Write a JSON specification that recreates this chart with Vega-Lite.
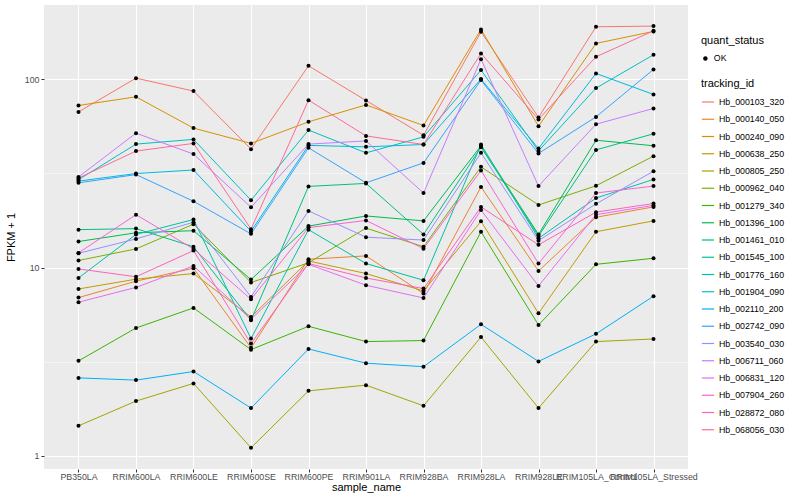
{
"$schema": "https://vega.github.io/schema/vega-lite/v6.json",
"width": 644, "height": 464,
"padding": {"left": 5, "top": 5, "right": 0, "bottom": 0},
"background": "white",
"config": {
 "font": "Liberation Sans",
 "view": {"fill": "#EBEBEB", "stroke": null},
 "axis": {"domain": false, "gridColor": "white", "tickColor": "#333333", "tickSize": 3, "labelColor": "#4D4D4D", "labelFontSize": 8.8, "titleFontSize": 11, "titleFontWeight": "normal", "titleColor": "black", "labelPadding": 2},
 "legend": {"titleFontSize": 11, "titleFontWeight": "normal", "labelFontSize": 8.8, "labelColor": "black", "titleColor": "black"}
},
"data": {"values": [
{"tracking_id":"Hb_000103_320","sample_name":"PB350LA","FPKM":67.2,"quant_status":"OK"},
{"tracking_id":"Hb_000103_320","sample_name":"RRIM600LA","FPKM":101.6,"quant_status":"OK"},
{"tracking_id":"Hb_000103_320","sample_name":"RRIM600LE","FPKM":86.7,"quant_status":"OK"},
{"tracking_id":"Hb_000103_320","sample_name":"RRIM600SE","FPKM":42.6,"quant_status":"OK"},
{"tracking_id":"Hb_000103_320","sample_name":"RRIM600PE","FPKM":118.1,"quant_status":"OK"},
{"tracking_id":"Hb_000103_320","sample_name":"RRIM901LA","FPKM":77.3,"quant_status":"OK"},
{"tracking_id":"Hb_000103_320","sample_name":"RRIM928BA","FPKM":50.5,"quant_status":"OK"},
{"tracking_id":"Hb_000103_320","sample_name":"RRIM928LA","FPKM":179.1,"quant_status":"OK"},
{"tracking_id":"Hb_000103_320","sample_name":"RRIM928LE","FPKM":62.8,"quant_status":"OK"},
{"tracking_id":"Hb_000103_320","sample_name":"RRIM105LA_Control","FPKM":190.5,"quant_status":"OK"},
{"tracking_id":"Hb_000103_320","sample_name":"RRIM105LA_Stressed","FPKM":192.1,"quant_status":"OK"},
{"tracking_id":"Hb_000140_050","sample_name":"PB350LA","FPKM":6.92,"quant_status":"OK"},
{"tracking_id":"Hb_000140_050","sample_name":"RRIM600LA","FPKM":8.46,"quant_status":"OK"},
{"tracking_id":"Hb_000140_050","sample_name":"RRIM600LE","FPKM":9.92,"quant_status":"OK"},
{"tracking_id":"Hb_000140_050","sample_name":"RRIM600SE","FPKM":3.74,"quant_status":"OK"},
{"tracking_id":"Hb_000140_050","sample_name":"RRIM600PE","FPKM":11.07,"quant_status":"OK"},
{"tracking_id":"Hb_000140_050","sample_name":"RRIM901LA","FPKM":11.53,"quant_status":"OK"},
{"tracking_id":"Hb_000140_050","sample_name":"RRIM928BA","FPKM":7.27,"quant_status":"OK"},
{"tracking_id":"Hb_000140_050","sample_name":"RRIM928LA","FPKM":26.8,"quant_status":"OK"},
{"tracking_id":"Hb_000140_050","sample_name":"RRIM928LE","FPKM":9.59,"quant_status":"OK"},
{"tracking_id":"Hb_000140_050","sample_name":"RRIM105LA_Control","FPKM":18.5,"quant_status":"OK"},
{"tracking_id":"Hb_000140_050","sample_name":"RRIM105LA_Stressed","FPKM":21.0,"quant_status":"OK"},
{"tracking_id":"Hb_000240_090","sample_name":"PB350LA","FPKM":72.7,"quant_status":"OK"},
{"tracking_id":"Hb_000240_090","sample_name":"RRIM600LA","FPKM":80.8,"quant_status":"OK"},
{"tracking_id":"Hb_000240_090","sample_name":"RRIM600LE","FPKM":55.1,"quant_status":"OK"},
{"tracking_id":"Hb_000240_090","sample_name":"RRIM600SE","FPKM":45.7,"quant_status":"OK"},
{"tracking_id":"Hb_000240_090","sample_name":"RRIM600PE","FPKM":59.5,"quant_status":"OK"},
{"tracking_id":"Hb_000240_090","sample_name":"RRIM901LA","FPKM":73.2,"quant_status":"OK"},
{"tracking_id":"Hb_000240_090","sample_name":"RRIM928BA","FPKM":56.9,"quant_status":"OK"},
{"tracking_id":"Hb_000240_090","sample_name":"RRIM928LA","FPKM":184.5,"quant_status":"OK"},
{"tracking_id":"Hb_000240_090","sample_name":"RRIM928LE","FPKM":56.4,"quant_status":"OK"},
{"tracking_id":"Hb_000240_090","sample_name":"RRIM105LA_Control","FPKM":155.4,"quant_status":"OK"},
{"tracking_id":"Hb_000240_090","sample_name":"RRIM105LA_Stressed","FPKM":180.0,"quant_status":"OK"},
{"tracking_id":"Hb_000638_250","sample_name":"PB350LA","FPKM":7.69,"quant_status":"OK"},
{"tracking_id":"Hb_000638_250","sample_name":"RRIM600LA","FPKM":8.67,"quant_status":"OK"},
{"tracking_id":"Hb_000638_250","sample_name":"RRIM600LE","FPKM":9.29,"quant_status":"OK"},
{"tracking_id":"Hb_000638_250","sample_name":"RRIM600SE","FPKM":5.46,"quant_status":"OK"},
{"tracking_id":"Hb_000638_250","sample_name":"RRIM600PE","FPKM":10.84,"quant_status":"OK"},
{"tracking_id":"Hb_000638_250","sample_name":"RRIM901LA","FPKM":9.29,"quant_status":"OK"},
{"tracking_id":"Hb_000638_250","sample_name":"RRIM928BA","FPKM":7.51,"quant_status":"OK"},
{"tracking_id":"Hb_000638_250","sample_name":"RRIM928LA","FPKM":17.6,"quant_status":"OK"},
{"tracking_id":"Hb_000638_250","sample_name":"RRIM928LE","FPKM":5.71,"quant_status":"OK"},
{"tracking_id":"Hb_000638_250","sample_name":"RRIM105LA_Control","FPKM":15.5,"quant_status":"OK"},
{"tracking_id":"Hb_000638_250","sample_name":"RRIM105LA_Stressed","FPKM":17.7,"quant_status":"OK"},
{"tracking_id":"Hb_000805_250","sample_name":"PB350LA","FPKM":1.44,"quant_status":"OK"},
{"tracking_id":"Hb_000805_250","sample_name":"RRIM600LA","FPKM":1.95,"quant_status":"OK"},
{"tracking_id":"Hb_000805_250","sample_name":"RRIM600LE","FPKM":2.42,"quant_status":"OK"},
{"tracking_id":"Hb_000805_250","sample_name":"RRIM600SE","FPKM":1.10,"quant_status":"OK"},
{"tracking_id":"Hb_000805_250","sample_name":"RRIM600PE","FPKM":2.21,"quant_status":"OK"},
{"tracking_id":"Hb_000805_250","sample_name":"RRIM901LA","FPKM":2.37,"quant_status":"OK"},
{"tracking_id":"Hb_000805_250","sample_name":"RRIM928BA","FPKM":1.84,"quant_status":"OK"},
{"tracking_id":"Hb_000805_250","sample_name":"RRIM928LA","FPKM":4.27,"quant_status":"OK"},
{"tracking_id":"Hb_000805_250","sample_name":"RRIM928LE","FPKM":1.79,"quant_status":"OK"},
{"tracking_id":"Hb_000805_250","sample_name":"RRIM105LA_Control","FPKM":4.04,"quant_status":"OK"},
{"tracking_id":"Hb_000805_250","sample_name":"RRIM105LA_Stressed","FPKM":4.17,"quant_status":"OK"},
{"tracking_id":"Hb_000962_040","sample_name":"PB350LA","FPKM":10.9,"quant_status":"OK"},
{"tracking_id":"Hb_000962_040","sample_name":"RRIM600LA","FPKM":12.56,"quant_status":"OK"},
{"tracking_id":"Hb_000962_040","sample_name":"RRIM600LE","FPKM":17.0,"quant_status":"OK"},
{"tracking_id":"Hb_000962_040","sample_name":"RRIM600SE","FPKM":8.32,"quant_status":"OK"},
{"tracking_id":"Hb_000962_040","sample_name":"RRIM600PE","FPKM":10.6,"quant_status":"OK"},
{"tracking_id":"Hb_000962_040","sample_name":"RRIM901LA","FPKM":16.2,"quant_status":"OK"},
{"tracking_id":"Hb_000962_040","sample_name":"RRIM928BA","FPKM":12.9,"quant_status":"OK"},
{"tracking_id":"Hb_000962_040","sample_name":"RRIM928LA","FPKM":34.3,"quant_status":"OK"},
{"tracking_id":"Hb_000962_040","sample_name":"RRIM928LE","FPKM":21.5,"quant_status":"OK"},
{"tracking_id":"Hb_000962_040","sample_name":"RRIM105LA_Control","FPKM":27.2,"quant_status":"OK"},
{"tracking_id":"Hb_000962_040","sample_name":"RRIM105LA_Stressed","FPKM":39.1,"quant_status":"OK"},
{"tracking_id":"Hb_001279_340","sample_name":"PB350LA","FPKM":3.19,"quant_status":"OK"},
{"tracking_id":"Hb_001279_340","sample_name":"RRIM600LA","FPKM":4.77,"quant_status":"OK"},
{"tracking_id":"Hb_001279_340","sample_name":"RRIM600LE","FPKM":6.10,"quant_status":"OK"},
{"tracking_id":"Hb_001279_340","sample_name":"RRIM600SE","FPKM":3.66,"quant_status":"OK"},
{"tracking_id":"Hb_001279_340","sample_name":"RRIM600PE","FPKM":4.87,"quant_status":"OK"},
{"tracking_id":"Hb_001279_340","sample_name":"RRIM901LA","FPKM":4.04,"quant_status":"OK"},
{"tracking_id":"Hb_001279_340","sample_name":"RRIM928BA","FPKM":4.09,"quant_status":"OK"},
{"tracking_id":"Hb_001279_340","sample_name":"RRIM928LA","FPKM":15.5,"quant_status":"OK"},
{"tracking_id":"Hb_001279_340","sample_name":"RRIM928LE","FPKM":4.95,"quant_status":"OK"},
{"tracking_id":"Hb_001279_340","sample_name":"RRIM105LA_Control","FPKM":10.4,"quant_status":"OK"},
{"tracking_id":"Hb_001279_340","sample_name":"RRIM105LA_Stressed","FPKM":11.2,"quant_status":"OK"},
{"tracking_id":"Hb_001396_100","sample_name":"PB350LA","FPKM":13.75,"quant_status":"OK"},
{"tracking_id":"Hb_001396_100","sample_name":"RRIM600LA","FPKM":15.3,"quant_status":"OK"},
{"tracking_id":"Hb_001396_100","sample_name":"RRIM600LE","FPKM":15.7,"quant_status":"OK"},
{"tracking_id":"Hb_001396_100","sample_name":"RRIM600SE","FPKM":8.63,"quant_status":"OK"},
{"tracking_id":"Hb_001396_100","sample_name":"RRIM600PE","FPKM":16.6,"quant_status":"OK"},
{"tracking_id":"Hb_001396_100","sample_name":"RRIM901LA","FPKM":18.8,"quant_status":"OK"},
{"tracking_id":"Hb_001396_100","sample_name":"RRIM928BA","FPKM":17.7,"quant_status":"OK"},
{"tracking_id":"Hb_001396_100","sample_name":"RRIM928LA","FPKM":44.4,"quant_status":"OK"},
{"tracking_id":"Hb_001396_100","sample_name":"RRIM928LE","FPKM":15.0,"quant_status":"OK"},
{"tracking_id":"Hb_001396_100","sample_name":"RRIM105LA_Control","FPKM":47.5,"quant_status":"OK"},
{"tracking_id":"Hb_001396_100","sample_name":"RRIM105LA_Stressed","FPKM":44.4,"quant_status":"OK"},
{"tracking_id":"Hb_001461_010","sample_name":"PB350LA","FPKM":15.9,"quant_status":"OK"},
{"tracking_id":"Hb_001461_010","sample_name":"RRIM600LA","FPKM":16.1,"quant_status":"OK"},
{"tracking_id":"Hb_001461_010","sample_name":"RRIM600LE","FPKM":12.9,"quant_status":"OK"},
{"tracking_id":"Hb_001461_010","sample_name":"RRIM600SE","FPKM":5.24,"quant_status":"OK"},
{"tracking_id":"Hb_001461_010","sample_name":"RRIM600PE","FPKM":27.0,"quant_status":"OK"},
{"tracking_id":"Hb_001461_010","sample_name":"RRIM901LA","FPKM":28.0,"quant_status":"OK"},
{"tracking_id":"Hb_001461_010","sample_name":"RRIM928BA","FPKM":15.0,"quant_status":"OK"},
{"tracking_id":"Hb_001461_010","sample_name":"RRIM928LA","FPKM":43.6,"quant_status":"OK"},
{"tracking_id":"Hb_001461_010","sample_name":"RRIM928LE","FPKM":14.7,"quant_status":"OK"},
{"tracking_id":"Hb_001461_010","sample_name":"RRIM105LA_Control","FPKM":42.2,"quant_status":"OK"},
{"tracking_id":"Hb_001461_010","sample_name":"RRIM105LA_Stressed","FPKM":51.4,"quant_status":"OK"},
{"tracking_id":"Hb_001545_100","sample_name":"PB350LA","FPKM":8.80,"quant_status":"OK"},
{"tracking_id":"Hb_001545_100","sample_name":"RRIM600LA","FPKM":15.0,"quant_status":"OK"},
{"tracking_id":"Hb_001545_100","sample_name":"RRIM600LE","FPKM":18.0,"quant_status":"OK"},
{"tracking_id":"Hb_001545_100","sample_name":"RRIM600SE","FPKM":4.19,"quant_status":"OK"},
{"tracking_id":"Hb_001545_100","sample_name":"RRIM600PE","FPKM":15.9,"quant_status":"OK"},
{"tracking_id":"Hb_001545_100","sample_name":"RRIM901LA","FPKM":10.5,"quant_status":"OK"},
{"tracking_id":"Hb_001545_100","sample_name":"RRIM928BA","FPKM":8.56,"quant_status":"OK"},
{"tracking_id":"Hb_001545_100","sample_name":"RRIM928LA","FPKM":45.1,"quant_status":"OK"},
{"tracking_id":"Hb_001545_100","sample_name":"RRIM928LE","FPKM":14.3,"quant_status":"OK"},
{"tracking_id":"Hb_001545_100","sample_name":"RRIM105LA_Control","FPKM":23.4,"quant_status":"OK"},
{"tracking_id":"Hb_001545_100","sample_name":"RRIM105LA_Stressed","FPKM":29.4,"quant_status":"OK"},
{"tracking_id":"Hb_001776_160","sample_name":"PB350LA","FPKM":29.3,"quant_status":"OK"},
{"tracking_id":"Hb_001776_160","sample_name":"RRIM600LA","FPKM":45.3,"quant_status":"OK"},
{"tracking_id":"Hb_001776_160","sample_name":"RRIM600LE","FPKM":48.0,"quant_status":"OK"},
{"tracking_id":"Hb_001776_160","sample_name":"RRIM600SE","FPKM":22.8,"quant_status":"OK"},
{"tracking_id":"Hb_001776_160","sample_name":"RRIM600PE","FPKM":53.8,"quant_status":"OK"},
{"tracking_id":"Hb_001776_160","sample_name":"RRIM901LA","FPKM":40.7,"quant_status":"OK"},
{"tracking_id":"Hb_001776_160","sample_name":"RRIM928BA","FPKM":49.5,"quant_status":"OK"},
{"tracking_id":"Hb_001776_160","sample_name":"RRIM928LA","FPKM":112.1,"quant_status":"OK"},
{"tracking_id":"Hb_001776_160","sample_name":"RRIM928LE","FPKM":41.7,"quant_status":"OK"},
{"tracking_id":"Hb_001776_160","sample_name":"RRIM105LA_Control","FPKM":89.9,"quant_status":"OK"},
{"tracking_id":"Hb_001776_160","sample_name":"RRIM105LA_Stressed","FPKM":135.2,"quant_status":"OK"},
{"tracking_id":"Hb_001904_090","sample_name":"PB350LA","FPKM":28.8,"quant_status":"OK"},
{"tracking_id":"Hb_001904_090","sample_name":"RRIM600LA","FPKM":31.6,"quant_status":"OK"},
{"tracking_id":"Hb_001904_090","sample_name":"RRIM600LE","FPKM":33.0,"quant_status":"OK"},
{"tracking_id":"Hb_001904_090","sample_name":"RRIM600SE","FPKM":15.6,"quant_status":"OK"},
{"tracking_id":"Hb_001904_090","sample_name":"RRIM600PE","FPKM":44.6,"quant_status":"OK"},
{"tracking_id":"Hb_001904_090","sample_name":"RRIM901LA","FPKM":43.8,"quant_status":"OK"},
{"tracking_id":"Hb_001904_090","sample_name":"RRIM928BA","FPKM":45.1,"quant_status":"OK"},
{"tracking_id":"Hb_001904_090","sample_name":"RRIM928LA","FPKM":100.4,"quant_status":"OK"},
{"tracking_id":"Hb_001904_090","sample_name":"RRIM928LE","FPKM":42.9,"quant_status":"OK"},
{"tracking_id":"Hb_001904_090","sample_name":"RRIM105LA_Control","FPKM":107.6,"quant_status":"OK"},
{"tracking_id":"Hb_001904_090","sample_name":"RRIM105LA_Stressed","FPKM":83.2,"quant_status":"OK"},
{"tracking_id":"Hb_002110_200","sample_name":"PB350LA","FPKM":2.59,"quant_status":"OK"},
{"tracking_id":"Hb_002110_200","sample_name":"RRIM600LA","FPKM":2.52,"quant_status":"OK"},
{"tracking_id":"Hb_002110_200","sample_name":"RRIM600LE","FPKM":2.80,"quant_status":"OK"},
{"tracking_id":"Hb_002110_200","sample_name":"RRIM600SE","FPKM":1.79,"quant_status":"OK"},
{"tracking_id":"Hb_002110_200","sample_name":"RRIM600PE","FPKM":3.69,"quant_status":"OK"},
{"tracking_id":"Hb_002110_200","sample_name":"RRIM901LA","FPKM":3.10,"quant_status":"OK"},
{"tracking_id":"Hb_002110_200","sample_name":"RRIM928BA","FPKM":2.97,"quant_status":"OK"},
{"tracking_id":"Hb_002110_200","sample_name":"RRIM928LA","FPKM":4.99,"quant_status":"OK"},
{"tracking_id":"Hb_002110_200","sample_name":"RRIM928LE","FPKM":3.17,"quant_status":"OK"},
{"tracking_id":"Hb_002110_200","sample_name":"RRIM105LA_Control","FPKM":4.44,"quant_status":"OK"},
{"tracking_id":"Hb_002110_200","sample_name":"RRIM105LA_Stressed","FPKM":7.04,"quant_status":"OK"},
{"tracking_id":"Hb_002742_090","sample_name":"PB350LA","FPKM":28.2,"quant_status":"OK"},
{"tracking_id":"Hb_002742_090","sample_name":"RRIM600LA","FPKM":31.2,"quant_status":"OK"},
{"tracking_id":"Hb_002742_090","sample_name":"RRIM600LE","FPKM":22.5,"quant_status":"OK"},
{"tracking_id":"Hb_002742_090","sample_name":"RRIM600SE","FPKM":15.1,"quant_status":"OK"},
{"tracking_id":"Hb_002742_090","sample_name":"RRIM600PE","FPKM":43.3,"quant_status":"OK"},
{"tracking_id":"Hb_002742_090","sample_name":"RRIM901LA","FPKM":28.2,"quant_status":"OK"},
{"tracking_id":"Hb_002742_090","sample_name":"RRIM928BA","FPKM":36.0,"quant_status":"OK"},
{"tracking_id":"Hb_002742_090","sample_name":"RRIM928LA","FPKM":99.2,"quant_status":"OK"},
{"tracking_id":"Hb_002742_090","sample_name":"RRIM928LE","FPKM":40.4,"quant_status":"OK"},
{"tracking_id":"Hb_002742_090","sample_name":"RRIM105LA_Control","FPKM":63.2,"quant_status":"OK"},
{"tracking_id":"Hb_002742_090","sample_name":"RRIM105LA_Stressed","FPKM":113.0,"quant_status":"OK"},
{"tracking_id":"Hb_003540_030","sample_name":"PB350LA","FPKM":11.9,"quant_status":"OK"},
{"tracking_id":"Hb_003540_030","sample_name":"RRIM600LA","FPKM":14.2,"quant_status":"OK"},
{"tracking_id":"Hb_003540_030","sample_name":"RRIM600LE","FPKM":17.4,"quant_status":"OK"},
{"tracking_id":"Hb_003540_030","sample_name":"RRIM600SE","FPKM":6.98,"quant_status":"OK"},
{"tracking_id":"Hb_003540_030","sample_name":"RRIM600PE","FPKM":20.0,"quant_status":"OK"},
{"tracking_id":"Hb_003540_030","sample_name":"RRIM901LA","FPKM":14.5,"quant_status":"OK"},
{"tracking_id":"Hb_003540_030","sample_name":"RRIM928BA","FPKM":14.0,"quant_status":"OK"},
{"tracking_id":"Hb_003540_030","sample_name":"RRIM928LA","FPKM":40.7,"quant_status":"OK"},
{"tracking_id":"Hb_003540_030","sample_name":"RRIM928LE","FPKM":13.9,"quant_status":"OK"},
{"tracking_id":"Hb_003540_030","sample_name":"RRIM105LA_Control","FPKM":21.8,"quant_status":"OK"},
{"tracking_id":"Hb_003540_030","sample_name":"RRIM105LA_Stressed","FPKM":32.5,"quant_status":"OK"},
{"tracking_id":"Hb_006711_060","sample_name":"PB350LA","FPKM":30.3,"quant_status":"OK"},
{"tracking_id":"Hb_006711_060","sample_name":"RRIM600LA","FPKM":51.8,"quant_status":"OK"},
{"tracking_id":"Hb_006711_060","sample_name":"RRIM600LE","FPKM":40.1,"quant_status":"OK"},
{"tracking_id":"Hb_006711_060","sample_name":"RRIM600SE","FPKM":20.9,"quant_status":"OK"},
{"tracking_id":"Hb_006711_060","sample_name":"RRIM600PE","FPKM":45.3,"quant_status":"OK"},
{"tracking_id":"Hb_006711_060","sample_name":"RRIM901LA","FPKM":47.1,"quant_status":"OK"},
{"tracking_id":"Hb_006711_060","sample_name":"RRIM928BA","FPKM":24.9,"quant_status":"OK"},
{"tracking_id":"Hb_006711_060","sample_name":"RRIM928LA","FPKM":128.2,"quant_status":"OK"},
{"tracking_id":"Hb_006711_060","sample_name":"RRIM928LE","FPKM":27.1,"quant_status":"OK"},
{"tracking_id":"Hb_006711_060","sample_name":"RRIM105LA_Control","FPKM":57.8,"quant_status":"OK"},
{"tracking_id":"Hb_006711_060","sample_name":"RRIM105LA_Stressed","FPKM":70.1,"quant_status":"OK"},
{"tracking_id":"Hb_006831_120","sample_name":"PB350LA","FPKM":6.54,"quant_status":"OK"},
{"tracking_id":"Hb_006831_120","sample_name":"RRIM600LA","FPKM":7.84,"quant_status":"OK"},
{"tracking_id":"Hb_006831_120","sample_name":"RRIM600LE","FPKM":10.2,"quant_status":"OK"},
{"tracking_id":"Hb_006831_120","sample_name":"RRIM600SE","FPKM":5.31,"quant_status":"OK"},
{"tracking_id":"Hb_006831_120","sample_name":"RRIM600PE","FPKM":10.4,"quant_status":"OK"},
{"tracking_id":"Hb_006831_120","sample_name":"RRIM901LA","FPKM":8.05,"quant_status":"OK"},
{"tracking_id":"Hb_006831_120","sample_name":"RRIM928BA","FPKM":6.89,"quant_status":"OK"},
{"tracking_id":"Hb_006831_120","sample_name":"RRIM928LA","FPKM":20.2,"quant_status":"OK"},
{"tracking_id":"Hb_006831_120","sample_name":"RRIM928LE","FPKM":7.98,"quant_status":"OK"},
{"tracking_id":"Hb_006831_120","sample_name":"RRIM105LA_Control","FPKM":19.1,"quant_status":"OK"},
{"tracking_id":"Hb_006831_120","sample_name":"RRIM105LA_Stressed","FPKM":21.4,"quant_status":"OK"},
{"tracking_id":"Hb_007904_260","sample_name":"PB350LA","FPKM":11.96,"quant_status":"OK"},
{"tracking_id":"Hb_007904_260","sample_name":"RRIM600LA","FPKM":19.1,"quant_status":"OK"},
{"tracking_id":"Hb_007904_260","sample_name":"RRIM600LE","FPKM":12.56,"quant_status":"OK"},
{"tracking_id":"Hb_007904_260","sample_name":"RRIM600SE","FPKM":6.78,"quant_status":"OK"},
{"tracking_id":"Hb_007904_260","sample_name":"RRIM600PE","FPKM":16.3,"quant_status":"OK"},
{"tracking_id":"Hb_007904_260","sample_name":"RRIM901LA","FPKM":17.8,"quant_status":"OK"},
{"tracking_id":"Hb_007904_260","sample_name":"RRIM928BA","FPKM":12.6,"quant_status":"OK"},
{"tracking_id":"Hb_007904_260","sample_name":"RRIM928LA","FPKM":32.8,"quant_status":"OK"},
{"tracking_id":"Hb_007904_260","sample_name":"RRIM928LE","FPKM":10.5,"quant_status":"OK"},
{"tracking_id":"Hb_007904_260","sample_name":"RRIM105LA_Control","FPKM":24.9,"quant_status":"OK"},
{"tracking_id":"Hb_007904_260","sample_name":"RRIM105LA_Stressed","FPKM":27.1,"quant_status":"OK"},
{"tracking_id":"Hb_028872_080","sample_name":"PB350LA","FPKM":9.83,"quant_status":"OK"},
{"tracking_id":"Hb_028872_080","sample_name":"RRIM600LA","FPKM":8.93,"quant_status":"OK"},
{"tracking_id":"Hb_028872_080","sample_name":"RRIM600LE","FPKM":12.3,"quant_status":"OK"},
{"tracking_id":"Hb_028872_080","sample_name":"RRIM600SE","FPKM":3.94,"quant_status":"OK"},
{"tracking_id":"Hb_028872_080","sample_name":"RRIM600PE","FPKM":10.5,"quant_status":"OK"},
{"tracking_id":"Hb_028872_080","sample_name":"RRIM901LA","FPKM":8.80,"quant_status":"OK"},
{"tracking_id":"Hb_028872_080","sample_name":"RRIM928BA","FPKM":7.73,"quant_status":"OK"},
{"tracking_id":"Hb_028872_080","sample_name":"RRIM928LA","FPKM":21.0,"quant_status":"OK"},
{"tracking_id":"Hb_028872_080","sample_name":"RRIM928LE","FPKM":13.2,"quant_status":"OK"},
{"tracking_id":"Hb_028872_080","sample_name":"RRIM105LA_Control","FPKM":19.7,"quant_status":"OK"},
{"tracking_id":"Hb_028872_080","sample_name":"RRIM105LA_Stressed","FPKM":21.9,"quant_status":"OK"},
{"tracking_id":"Hb_068056_030","sample_name":"PB350LA","FPKM":29.9,"quant_status":"OK"},
{"tracking_id":"Hb_068056_030","sample_name":"RRIM600LA","FPKM":41.6,"quant_status":"OK"},
{"tracking_id":"Hb_068056_030","sample_name":"RRIM600LE","FPKM":45.7,"quant_status":"OK"},
{"tracking_id":"Hb_068056_030","sample_name":"RRIM600SE","FPKM":16.0,"quant_status":"OK"},
{"tracking_id":"Hb_068056_030","sample_name":"RRIM600PE","FPKM":77.6,"quant_status":"OK"},
{"tracking_id":"Hb_068056_030","sample_name":"RRIM901LA","FPKM":50.1,"quant_status":"OK"},
{"tracking_id":"Hb_068056_030","sample_name":"RRIM928BA","FPKM":45.1,"quant_status":"OK"},
{"tracking_id":"Hb_068056_030","sample_name":"RRIM928LA","FPKM":137.5,"quant_status":"OK"},
{"tracking_id":"Hb_068056_030","sample_name":"RRIM928LE","FPKM":61.3,"quant_status":"OK"},
{"tracking_id":"Hb_068056_030","sample_name":"RRIM105LA_Control","FPKM":131.9,"quant_status":"OK"},
{"tracking_id":"Hb_068056_030","sample_name":"RRIM105LA_Stressed","FPKM":181.3,"quant_status":"OK"}
]},
"encoding": {
 "x": {"field": "sample_name", "type": "nominal",
  "sort": ["PB350LA","RRIM600LA","RRIM600LE","RRIM600SE","RRIM600PE","RRIM901LA","RRIM928BA","RRIM928LA","RRIM928LE","RRIM105LA_Control","RRIM105LA_Stressed"],
  "scale": {"type": "point", "padding": 0.6},
  "axis": {"title": "sample_name", "labelAngle": 0, "labelOverlap": false, "labelBound": false, "labelPadding": 0, "grid": true, "gridWidth": 1.1, "titlePadding": 1}},
 "y": {"field": "FPKM", "type": "quantitative",
  "scale": {"type": "log", "domain": [0.849, 248.7], "nice": false, "zero": false},
  "axis": {"title": "FPKM + 1", "values": [1, 3.1623, 10, 31.623, 100],
   "labelExpr": "datum.value < 2 ? '1' : (datum.value > 5 && datum.value < 20) ? '10' : datum.value > 50 ? '100' : ''",
   "gridWidth": {"condition": {"test": "datum.value < 2 || (datum.value > 5 && datum.value < 20) || datum.value > 50", "value": 1.1}, "value": 0.5},
   "tickOpacity": {"condition": {"test": "datum.value < 2 || (datum.value > 5 && datum.value < 20) || datum.value > 50", "value": 1}, "value": 0},
   "titlePadding": 8}}
},
"layer": [
 {"mark": {"type": "line", "strokeWidth": 1},
  "encoding": {
   "color": {"field": "tracking_id", "type": "nominal",
    "scale": {"domain": ["Hb_000103_320","Hb_000140_050","Hb_000240_090","Hb_000638_250","Hb_000805_250","Hb_000962_040","Hb_001279_340","Hb_001396_100","Hb_001461_010","Hb_001545_100","Hb_001776_160","Hb_001904_090","Hb_002110_200","Hb_002742_090","Hb_003540_030","Hb_006711_060","Hb_006831_120","Hb_007904_260","Hb_028872_080","Hb_068056_030"],
     "range": ["#F8766D","#EA8331","#D89000","#C09B00","#A3A500","#7CAE00","#39B600","#00BB4E","#00BF7D","#00C1A3","#00BFC4","#00BAE0","#00B0F6","#35A2FF","#9590FF","#C77CFF","#E76BF3","#FA62DB","#FF62BC","#FF6A98"]},
    "legend": {"title": "tracking_id", "orient": "none", "legendX": 657, "legendY": 73, "symbolType": "stroke", "symbolStrokeWidth": 1.2, "symbolSize": 150, "rowPadding": 5.25, "symbolLimit": 0, "titlePadding": 6}},
   "order": {"value": null}
  }},
 {"mark": {"type": "point", "filled": true, "size": 16, "opacity": 1},
  "encoding": {
   "color": {"value": "black"},
   "shape": {"field": "quant_status", "type": "nominal", "scale": {"range": ["circle"]},
    "legend": {"title": "quant_status", "orient": "none", "legendX": 657, "legendY": 30, "symbolSize": 20, "symbolFillColor": "black", "titlePadding": 8}}
  }}
]
}
